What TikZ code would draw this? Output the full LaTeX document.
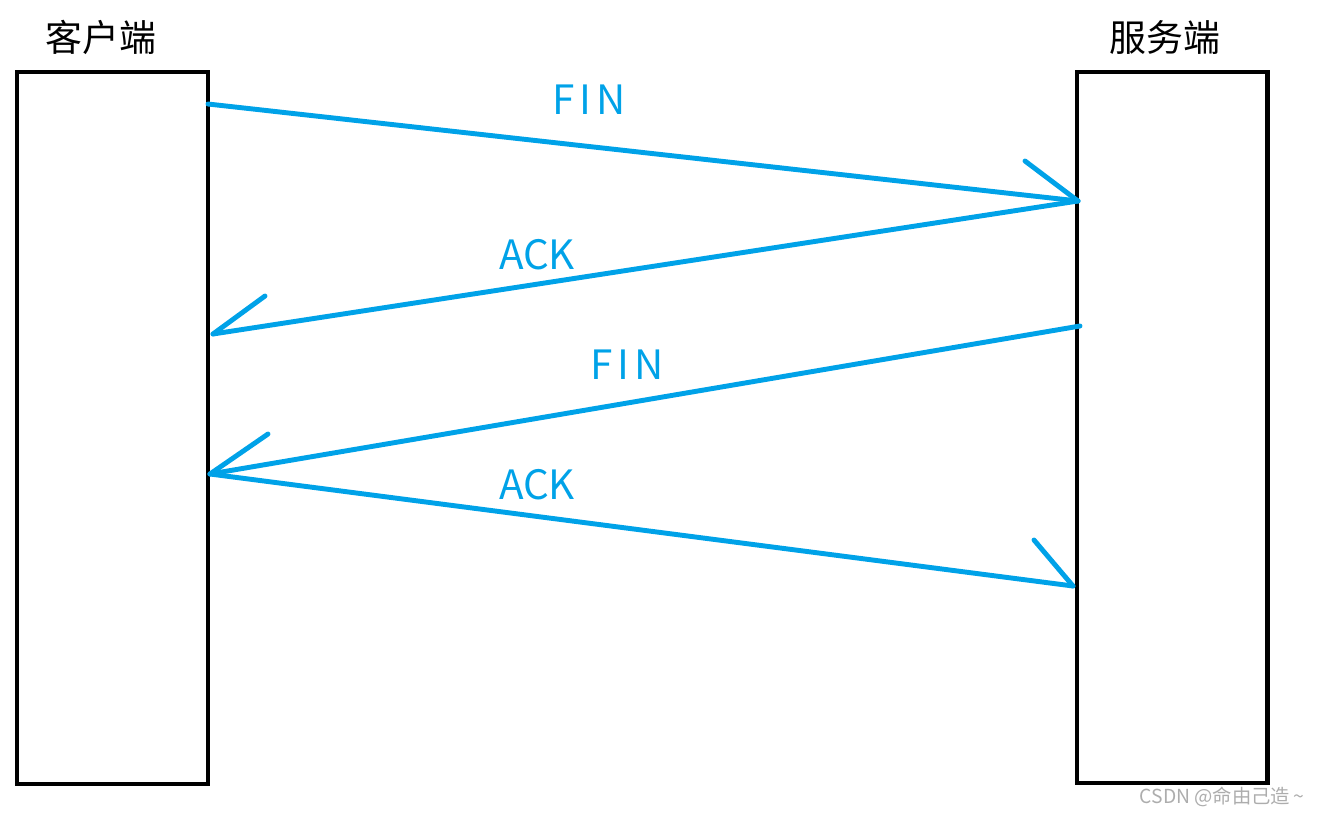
\documentclass[tikz,border=0pt]{standalone}
\usepackage{fontspec}
\setmainfont{Noto Sans CJK SC}
\usetikzlibrary{positioning}
\definecolor{paintblue}{HTML}{00A2E8}
\tikzset{
    host/.style={draw=black, line width=2.3pt, minimum width=3.82cm, minimum height=14.24cm, inner sep=0pt},
    hostname/.style={font=\fontsize{21}{24}\selectfont, inner sep=0pt},
    msg/.style={paintblue, line width=2.8pt, line cap=round},
    msglabel/.style={text=paintblue, font=\fontsize{23}{26}\selectfont, inner sep=0pt},
    finlabel/.style={msglabel, font=\fontsize{23}{26}\selectfont\addfontfeatures{LetterSpace=12}},
}
\begin{document}
\begin{tikzpicture}[x=0.02cm, y=-0.02cm]
            \useasboundingbox (0,0) rectangle (1321,815);
            % the two ends
            \node[host] (client) at (112.5,428) {};
            \node[host] (server) at (1172,427.5) {};
            \node[hostname] (clientname) at (101,37) {客户端};
            \node[hostname] (servername) at (1165,37) {服务端};

            % points on the boxes
            \coordinate (c1) at (208,104);
            \coordinate (s1) at (1078,201);
            \coordinate (c2) at (213,334);
            \coordinate (s3) at (1080,326);
            \coordinate (c3) at (210,474);
            \coordinate (s4) at (1073,586);
            % barbs
            \coordinate (b1) at (1025,161);
            \coordinate (b2) at (265,296);
            \coordinate (b3) at (268,434);
            \coordinate (b4) at (1034,540);

            \draw[msg] (c1) -- (s1);
            \draw[msg] (b1) -- (s1);
            \draw[msg] (s1) -- (c2);
            \draw[msg] (b2) -- (c2);
            \draw[msg] (s3) -- (c3);
            \draw[msg] (b3) -- (c3);
            \draw[msg] (c3) -- (s4);
            \draw[msg] (b4) -- (s4);

            \node[finlabel] (fin1) at (589,100) {FIN};
            \node[msglabel] (ack1) at (537,255) {ACK};
            \node[finlabel] (fin2) at (627,365) {FIN};
            \node[msglabel] (ack2) at (537,485) {ACK};

            \node[text=black!32, font=\fontsize{11}{13}\selectfont, inner sep=0pt] (mark) at (1222,797) {CSDN @命由己造\,\textasciitilde};
\end{tikzpicture}
\end{document}
